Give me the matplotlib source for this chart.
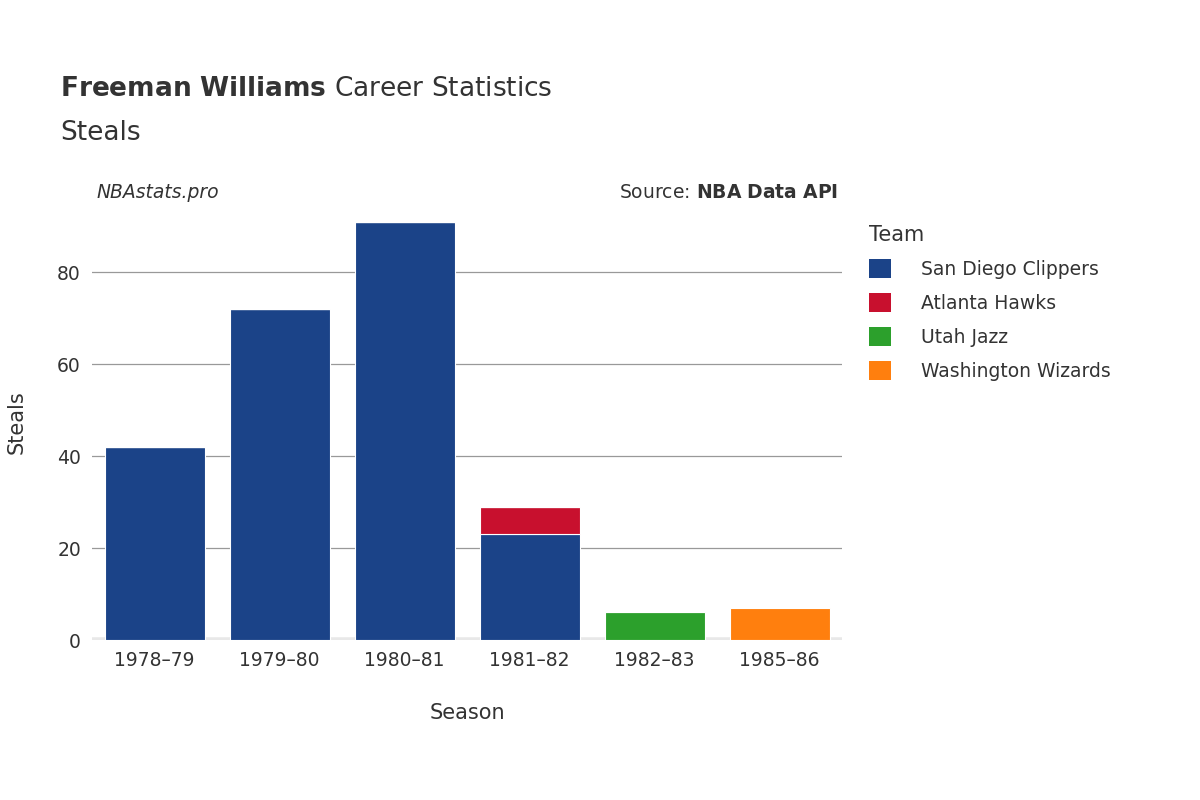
import matplotlib
matplotlib.use("Agg")
import matplotlib.pyplot as plt
from matplotlib.patches import Patch

seasons = ["1978–79", "1979–80", "1980–81", "1981–82", "1982–83", "1985–86"]
teams = ["San Diego Clippers", "Atlanta Hawks", "Utah Jazz", "Washington Wizards"]
colors = ["#1b4388", "#c8102e", "#2ca02c", "#ff7f0e"]
values = {
    "San Diego Clippers": [42, 72, 91, 23, 0, 0],
    "Atlanta Hawks":      [0, 0, 0, 6, 0, 0],
    "Utah Jazz":          [0, 0, 0, 0, 6, 0],
    "Washington Wizards": [0, 0, 0, 0, 0, 7],
}

fig = plt.figure(figsize=(12, 8), dpi=100)
ax = fig.add_axes([92/1200, 0.2, 750/1200, (640-205)/800])
x = list(range(len(seasons)))
bottom = [0]*len(seasons)
for t, c in zip(teams, colors):
    v = values[t]
    ax.bar(x, v, 0.8, bottom=bottom, color=c, edgecolor="white", linewidth=0.8, zorder=3)
    bottom = [b+vv for b, vv in zip(bottom, v)]

ax.set_xlim(-0.5, 5.5)
ax.set_ylim(0, 94.6)
ax.set_yticks([0, 20, 40, 60, 80])
ax.grid(axis="y", color="#999999", linewidth=0.9, zorder=0)
for s in ax.spines.values():
    s.set_visible(False)
ax.axhline(0, color="#e8e8e8", linewidth=4, zorder=2)
ax.set_xticks(x)
ax.set_xticklabels(seasons)
ax.tick_params(length=0, labelsize=13.5, colors="#333333", pad=8)
ax.set_xlabel("Season", fontsize=15, color="#333333", labelpad=24)
ax.set_ylabel("Steals", fontsize=15, color="#333333", labelpad=22)

fig.text(60/1200, 1-89/800, r"$\bf{Freeman\ Williams}$ Career Statistics", fontsize=19, color="#333333", va="center")
fig.text(60/1200, 1-133/800, "Steals", fontsize=19, color="#333333", va="center")
fig.text(97/1200, 1-192/800, "NBAstats.pro", fontsize=13.5, color="#333333", style="italic", va="center")
fig.text(838/1200, 1-192/800, r"Source: $\bf{NBA\ Data\ API}$", fontsize=13.5, color="#333333", ha="right", va="center")

handles = [Patch(facecolor=c, label=t) for t, c in zip(teams, colors)]
leg = fig.legend(handles=handles, loc="upper left", bbox_to_anchor=(852/1200, 1-208/800),
                 frameon=False, fontsize=13.5, title="Team", title_fontsize=15,
                 handlelength=1.2, handleheight=1.2, labelspacing=0.75, handletextpad=1.6)
leg._legend_box.align = "left"
for txt in leg.get_texts():
    txt.set_color("#333333")
leg.get_title().set_color("#333333")

fig.savefig("out.png")
